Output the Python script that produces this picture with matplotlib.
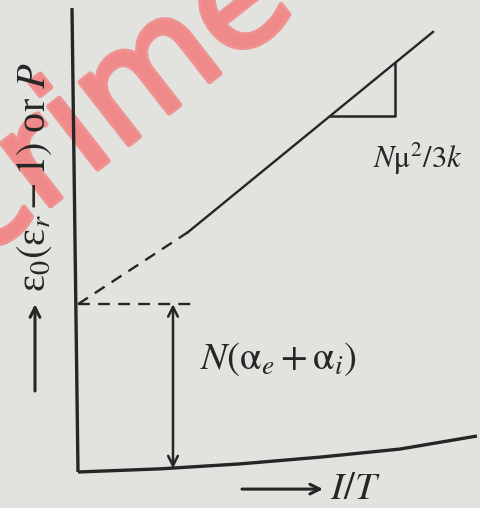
import numpy as np
import matplotlib
matplotlib.use('Agg')
import matplotlib.pyplot as plt
import matplotlib.patheffects as pe

plt.rcParams['font.family'] = ['Liberation Serif', 'DejaVu Serif']
plt.rcParams['mathtext.fontset'] = 'stix'

# axes of the sketch (x = 1/T, y = polarisation), arbitrary units
yaxis_x = [0.0, -0.015]
yaxis_y = [0.0, 1.031]
xaxis_x = [0.0, 0.205, 0.405, 0.605, 0.805, 0.9975]
xaxis_y = [0.0, 0.007, 0.018, 0.033, 0.051, 0.080]

# measured straight line and its extrapolation to 1/T = 0
intercept = 0.373
solid_x = [0.275, 0.8875]
solid_y = [0.533, 0.978]
dash_x = [0.0, 0.275]
dash_y = [intercept, 0.533]

# slope triangle (run along 1/T)
tri_x = [0.63, 0.7925]

ink = '#262626'
bg = '#e2e2df'

fig = plt.figure(figsize=(4.8, 5.08), dpi=100)
fig.patch.set_facecolor(bg)
ax = fig.add_axes([0, 0, 1, 1])
ax.set_facecolor(bg)
ax.set_xlim(-0.195, 1.005)
ax.set_ylim(-0.08, 1.0489)
ax.axis('off')

# watermark
ax.text(0.09, 0.815, 'crime', fontsize=104, color='#f18a8a', alpha=0.9,
        family='DejaVu Sans', rotation=38, ha='center', va='center',
        rotation_mode='anchor', zorder=0,
        path_effects=[pe.withStroke(linewidth=4, foreground='#f18a8a')])

ax.plot(yaxis_x, yaxis_y, color=ink, lw=2.4, solid_capstyle='butt')
ax.plot(xaxis_x, xaxis_y, color=ink, lw=2.4, solid_capstyle='butt')

ax.plot(solid_x, solid_y, color=ink, lw=1.7)
ax.plot(dash_x, dash_y, color=ink, lw=1.7, dashes=(5, 3.5))
ax.plot([0.0, 0.2925], [intercept, intercept], color=ink, lw=1.7, dashes=(5, 3.5))

# slope triangle hanging under the line
slope = (solid_y[1] - solid_y[0]) / (solid_x[1] - solid_x[0])
line_at = lambda x: solid_y[0] + slope * (x - solid_x[0])
ax.plot([tri_x[0], tri_x[1], tri_x[1]],
        [line_at(tri_x[0]), line_at(tri_x[0]), line_at(tri_x[1])],
        color=ink, lw=1.8)
ax.text(0.7375, 0.676, r'$N\mathrm{\mu}^2/3k$', fontsize=22, color=ink,
        ha='left', va='baseline')

# intercept marker
ax.annotate('', xy=(0.2375, intercept), xytext=(0.2375, 0.008),
            arrowprops=dict(arrowstyle='<->,head_length=0.7,head_width=0.35',
                            color=ink, lw=1.8, shrinkA=0, shrinkB=0))
ax.text(0.305, 0.229, r'$N(\mathrm{\alpha}_e + \mathrm{\alpha}_i)$', fontsize=28,
        color=ink, ha='left', va='baseline')

# axis labels with pointer arrows
ax.annotate('', xy=(-0.1075, 0.373), xytext=(-0.1075, 0.18),
            arrowprops=dict(arrowstyle='->,head_length=0.7,head_width=0.35',
                            color=ink, lw=2.2, shrinkA=0, shrinkB=0))
ax.text(-0.1075, 0.40,
        r'$\mathregular{ε}_0(\mathregular{ε}_r - 1)$ or $P$',
        fontsize=29, color=ink, rotation=90, ha='center', va='bottom')

ax.annotate('', xy=(0.6125, -0.038), xytext=(0.41, -0.038),
            arrowprops=dict(arrowstyle='->,head_length=0.7,head_width=0.35',
                            color=ink, lw=2.2, shrinkA=0, shrinkB=0))
ax.text(0.63, -0.06, r'$I/T$', fontsize=28, color=ink, ha='left', va='baseline')

fig.savefig('out.png', dpi=100, facecolor=bg)
